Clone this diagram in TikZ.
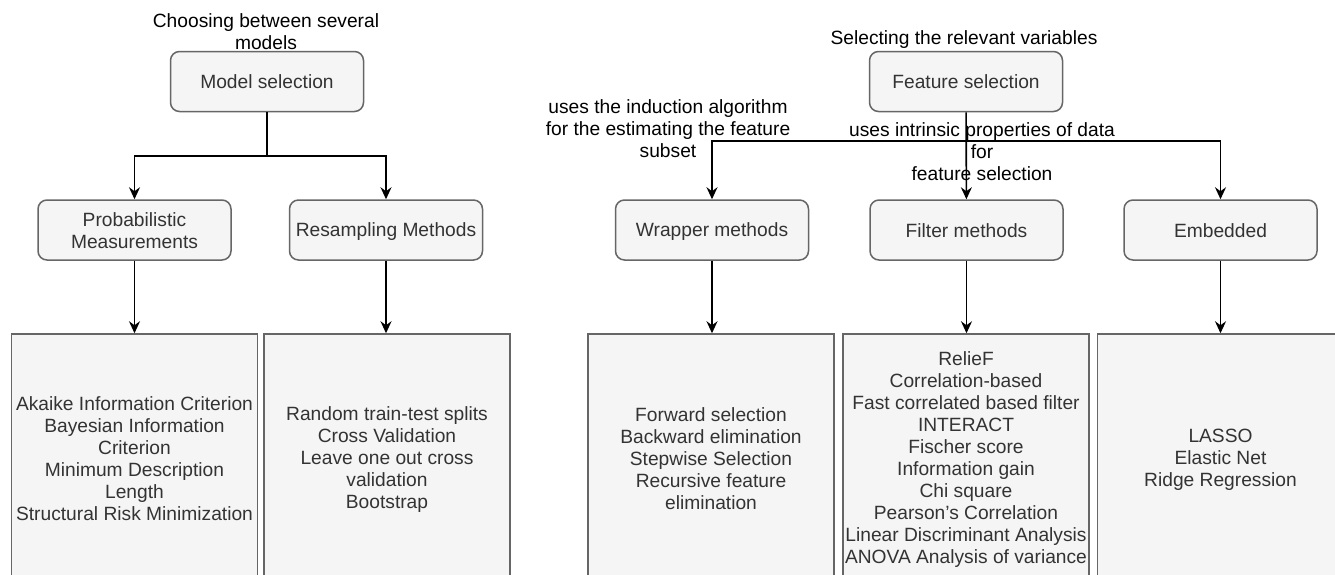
\documentclass[tikz,border=0pt]{standalone}
\usepackage{fontspec}
\setmainfont{Liberation Sans}
\usetikzlibrary{arrows.meta}
\definecolor{boxfill}{HTML}{F5F5F5}
\definecolor{boxline}{HTML}{666666}
\definecolor{boxtext}{HTML}{333333}
\newcommand{\bs}{\rule[-2pt]{0pt}{18pt}}
\begin{document}
\begin{tikzpicture}[x=1pt,y=-1pt,
  every node/.style={font=\fontsize{19.2}{22}\selectfont, inner sep=0pt},
  rbox/.style={draw=boxline, fill=boxfill, line width=1.5pt, rounded corners=9pt, minimum width=193pt, minimum height=60pt, text=boxtext, align=center},
  lbox/.style={draw=boxline, fill=boxfill, line width=1.5pt, minimum width=246pt, minimum height=248pt, text=boxtext, align=center},
  lbl/.style={align=center, text=black},
  conn/.style={draw=black, line width=1.6pt, -{Stealth[length=12pt,width=11pt,inset=4pt]}},
  plainline/.style={draw=black, line width=1.6pt}]
\useasboundingbox (0,0) rectangle (1335,574);
\clip (0,0) rectangle (1335,574);
\fill[white] (0,0) rectangle (1335,574);

% left tree
\node[rbox] (ms) at (267,81.5) {\bs Model selection};
\node[rbox] (prob) at (134.5,230) {\bs Probabilistic\\Measurements\bs};
\node[rbox] (res) at (386,230) {\bs Resampling Methods};
\node[lbox] (l1) at (134.5,458) {\bs Akaike Information Criterion\\Bayesian Information\\Criterion\\Minimum Description\\Length\\Structural Risk Minimization\bs};
\node[lbox] (l2) at (387,458) {\bs Random train-test splits\\Cross Validation\\Leave one out cross\\validation\\Bootstrap\bs};
\node[lbl] (t1) at (266,31.5) {\bs Choosing between several\\models\bs};

\coordinate (msj) at (267,156);
\draw[plainline] (ms) -- (msj);
\draw[conn] (msj) -| (prob);
\draw[conn] (msj) -| (res);
\draw[conn] (prob) -- (l1);
\draw[conn] (res) -- (res |- l2.north);

% right tree
\node[rbox] (fs) at (966,81.5) {\bs Feature selection};
\node[rbox] (wr) at (712,230) {\bs Wrapper methods};
\node[rbox] (fi) at (966.5,230) {\bs Filter methods};
\node[rbox] (em) at (1220.5,230) {\bs Embedded};
\node[lbox] (l3) at (711,458) {\bs Forward selection\\Backward elimination\\Stepwise Selection\\Recursive feature\\elimination\bs};
\node[lbox] (l4) at (966,458) {\bs RelieF\\Correlation-based\\Fast correlated based filter\\INTERACT\\Fischer score\\Information gain\\Chi square\\Pearson's Correlation\\Linear Discriminant Analysis\\ANOVA Analysis of variance\bs};
\node[lbox] (l5) at (1220.5,458) {\bs LASSO\\Elastic Net\\Ridge Regression\bs};
\node[lbl] (t2) at (964,38) {\bs Selecting the relevant variables};
\node[lbl] (t3) at (668,128) {\bs uses the induction algorithm\\for the estimating the feature\\subset\bs};
\node[lbl] (t4) at (982,151.5) {\bs uses intrinsic properties of data\\for\\feature selection\bs};

\coordinate (fsj) at (966.5,141);
\draw[conn] (fs) -- (fi);
\draw[conn] (fsj) -| (wr);
\draw[conn] (fsj) -| (em);
\draw[conn] (wr) -- (wr |- l3.north);
\draw[conn] (fi) -- (fi |- l4.north);
\draw[conn] (em) -- (em |- l5.north);
\end{tikzpicture}
\end{document}
